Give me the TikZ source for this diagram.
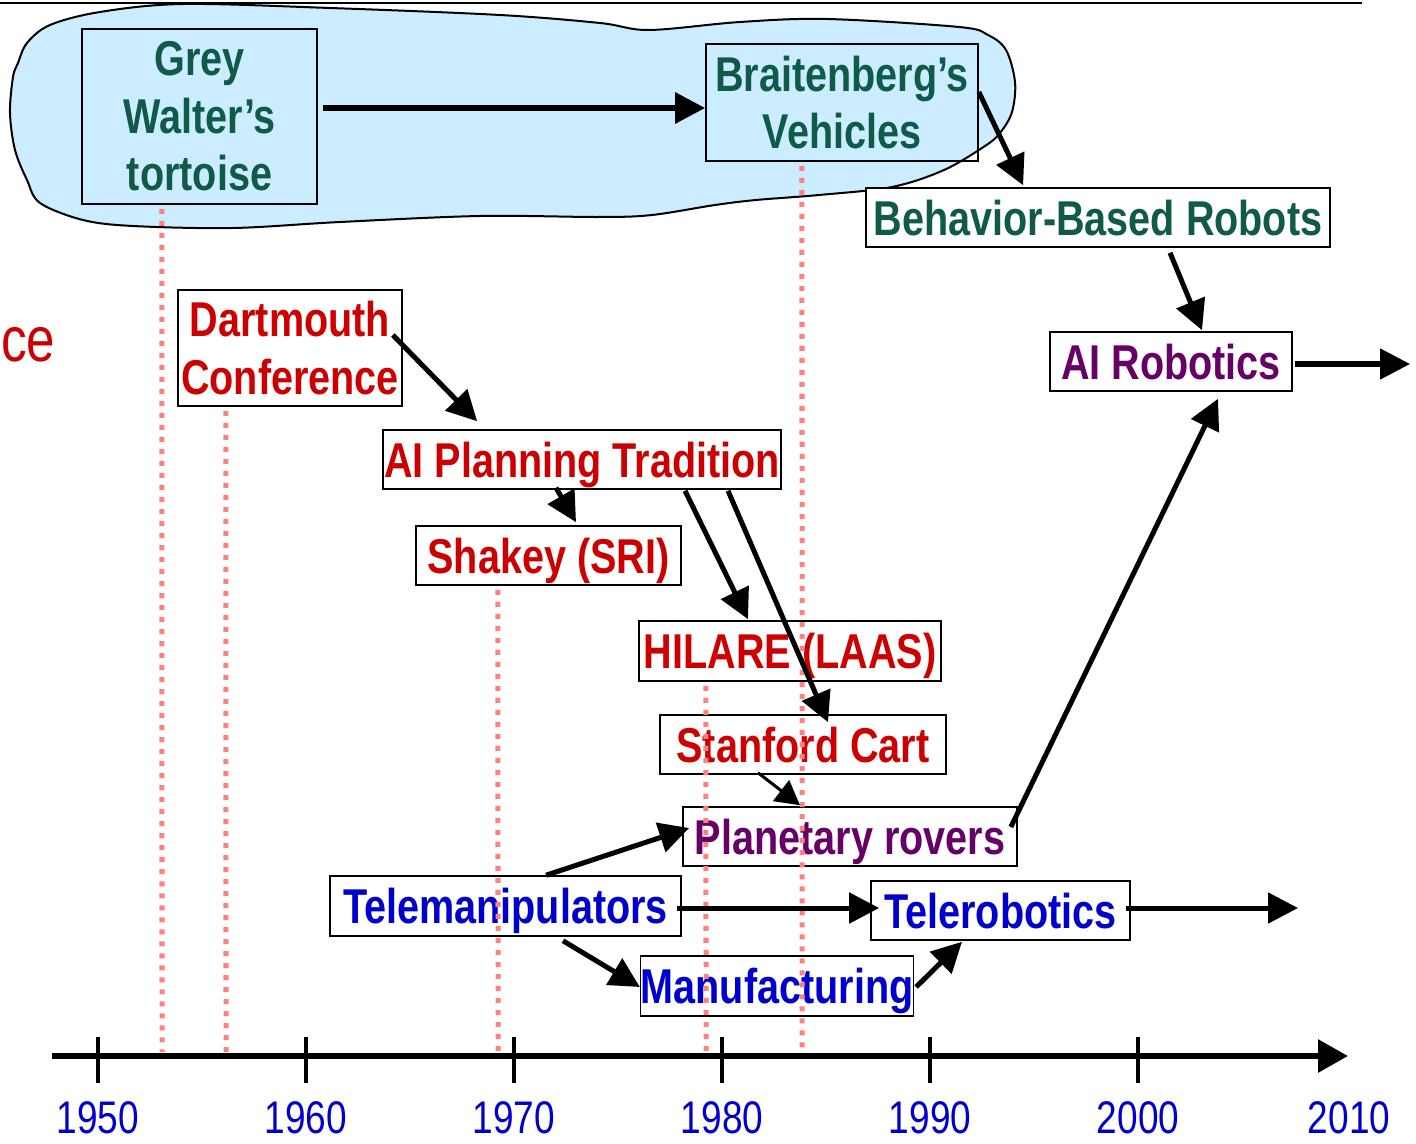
\documentclass[tikz,border=0pt]{standalone}
\usepackage{fontspec}
\setmainfont{Liberation Sans}[FakeStretch=0.81]
\usetikzlibrary{arrows.meta,calc}

\definecolor{tealtxt}{RGB}{16,90,74}
\definecolor{redtxt}{RGB}{204,0,0}
\definecolor{purptxt}{RGB}{102,0,102}
\definecolor{bluetxt}{RGB}{0,0,204}
\definecolor{blobfill}{RGB}{204,236,255}
\definecolor{dotpink}{RGB}{255,128,128}

\tikzset{
  box/.style={draw=black, line width=0.015cm, inner sep=0pt, align=center,
              font=\fontsize{13.9}{16.4}\selectfont\bfseries},
  whitebox/.style={box, fill=white, text height=0.42cm, text depth=0.07cm},
  conn/.style={line width=0.05cm, -{Triangle[length=0.3cm,width=0.3cm]}},
  thinconn/.style={line width=0.03cm, -{Triangle[length=0.24cm,width=0.26cm]}},
  yeardot/.style={dotpink, line width=0.05cm, dash pattern=on 0.05cm off 0.07cm},
  yearlabel/.style={text=bluetxt, font=\fontsize{13}{15}\selectfont},
  tick/.style={line width=0.045cm}
}

\begin{document}
\begin{tikzpicture}[x=0.01cm, y=-0.01cm]
\useasboundingbox (0,0) rectangle (1416,1143);

% cloud grouping the early reactive work
\fill[blobfill] plot[smooth cycle, tension=0.55] coordinates {
  (183,4) (330,8) (500,15) (600,23) (649,30) (740,22) (827,19) (959,27)
  (988,35) (1006,50) (1015,82) (1012,112) (1000,133) (985,146) (944,170)
  (892,187) (819,195) (756,200) (715,205) (652,215) (600,217) (480,216)
  (340,222) (233,228) (133,226) (83,220) (40,203) (27,180) (15,150)
  (10,113) (13,77) (18,63) (27,43) (50,25) (100,12)};
\draw[line width=0.02cm] plot[smooth cycle, tension=0.55] coordinates {
  (183,4) (330,8) (500,15) (600,23) (649,30) (740,22) (827,19) (959,27)
  (988,35) (1006,50) (1015,82) (1012,112) (1000,133) (985,146) (944,170)
  (892,187) (819,195) (756,200) (715,205) (652,215) (600,217) (480,216)
  (340,222) (233,228) (133,226) (83,220) (40,203) (27,180) (15,150)
  (10,113) (13,77) (18,63) (27,43) (50,25) (100,12)};

% rule along the top
\coordinate (topL) at (0,3);
\coordinate (topR) at (1362,3);
\draw[line width=0.02cm] (topL) -- (topR);

% cut-off caption on the left
\node[anchor=base east, inner sep=0pt, text=redtxt, font=\fontsize{18}{20}\selectfont] (cetext) at (56,361) {ce};

% milestones
\node[box, text=tealtxt, minimum width=2.35cm, minimum height=1.75cm] (grey) at (199.5,116.5) {Grey\\Walter’s\\tortoise};
\node[box, text=tealtxt, minimum width=2.72cm, minimum height=1.17cm] (brait) at (842,102.5) {Braitenberg’s\\Vehicles};
\node[whitebox, text=tealtxt, minimum width=4.64cm, minimum height=0.59cm] (behav) at (1098,217.5) {Behavior-Based Robots};
\node[box, fill=white, text=redtxt, minimum width=2.24cm, minimum height=1.16cm] (dart) at (290,348) {Dartmouth\\Conference};
\node[whitebox, text=redtxt, minimum width=3.98cm, minimum height=0.59cm] (aiplan) at (582,459.5) {AI Planning Tradition};
\node[whitebox, text=redtxt, minimum width=2.65cm, minimum height=0.59cm] (shakey) at (548.5,555.5) {Shakey (SRI)};
\node[whitebox, text=redtxt, minimum width=3.02cm, minimum height=0.60cm] (hilare) at (790,651) {HILARE (LAAS)};
\node[whitebox, text=redtxt, minimum width=2.86cm, minimum height=0.59cm] (stanford) at (803,744.5) {Stanford Cart};
\node[whitebox, text=purptxt, minimum width=3.34cm, minimum height=0.59cm] (planet) at (850,836.5) {Planetary rovers};
\node[whitebox, text=purptxt, minimum width=2.42cm, minimum height=0.59cm] (airob) at (1171,361.5) {AI Robotics};
\node[whitebox, text=bluetxt, minimum width=3.51cm, minimum height=0.60cm] (teleman) at (505.5,906) {Telemanipulators};
\node[whitebox, text=bluetxt, minimum width=2.59cm, minimum height=0.59cm] (telerob) at (1000.5,910.5) {Telerobotics};
\node[whitebox, text=bluetxt, minimum width=2.72cm, minimum height=0.60cm] (manuf) at (777,986) {Manufacturing};

% time axis
\coordinate (axL) at (52,1056);
\coordinate (axR) at (1348,1056);

% dotted drop lines from milestones to the axis
\draw[yeardot] ([xshift=-0.375cm,yshift=-0.04cm]grey.south) -- (162,1052);
\draw[yeardot] ([xshift=-0.64cm,yshift=-0.04cm]dart.south) -- (226,1052);
\draw[yeardot] ([xshift=-0.505cm,yshift=-0.04cm]shakey.south) -- (498,1052);
\draw[yeardot] ([xshift=-0.84cm,yshift=-0.04cm]hilare.south) -- (706,1052);
\draw[yeardot] ([xshift=-0.40cm,yshift=-0.04cm]brait.south) -- (802,1052);

\draw[line width=0.06cm, -{Triangle[length=0.3cm,width=0.32cm]}] (axL) -- (axR);
\foreach \yr [count=\i from 0] in {1950,1960,1970,1980,1990,2000} {
  \draw[tick] (98+208*\i,1037) -- (98+208*\i,1083);
  \node[yearlabel] (y\yr) at (98+208*\i,1118) {\yr};
}
\node[yearlabel] (y2010) at (1349,1118) {2010};

% influences
\draw[conn, line width=0.06cm] ($(grey.east)+(5,-8.5)$) -- ($(brait.west)+(0,5.5)$);
\draw[conn] ($(brait.east)+(0,-10.5)$) -- ($(behav.north west)+(158,-2)$);
\draw[conn] ($(behav.south)+(72,5)$) -- ($(airob.north)+(31,-1)$);
\coordinate (airobout) at (1410,364);
\draw[conn] ($(airob.east)+(2,2.5)$) -- (airobout);
\draw[conn] ($(dart.east)+(-10,-13)$) -- ($(aiplan.north west)+(95,-8)$);
\draw[conn] ($(aiplan.south)+(-26,-2)$) -- ($(shakey.north)+(27.5,-3)$);
\draw[conn] ($(aiplan.south)+(103,1)$) -- ($(hilare.north)+(-42,-1)$);
\draw[conn] ($(aiplan.south)+(146,1)$) -- ($(stanford.north)+(25,8)$);
\draw[thinconn] ($(stanford.south)+(-45,-2)$) -- ($(planet.north)+(-50,-1)$);
\draw[conn] ($(teleman.north)+(40.5,0)$) -- ($(planet.west)+(7,-8.5)$);
\draw[conn] ($(teleman.east)+(-5,2)$) -- ($(telerob.west)+(9,-2.5)$);
\coordinate (telerobout) at (1298,908);
\draw[conn] ($(telerob.east)+(-5,-2.5)$) -- (telerobout);
\draw[conn] ($(teleman.south)+(57.5,4)$) -- ($(manuf.west)+(0,1)$);
\draw[conn] ($(manuf.east)+(2,1)$) -- ($(telerob.south)+(-38.5,1)$);
\draw[conn] ($(planet.east)+(-7,-9.5)$) -- ($(airob.south)+(47,7)$);
\end{tikzpicture}
\end{document}
